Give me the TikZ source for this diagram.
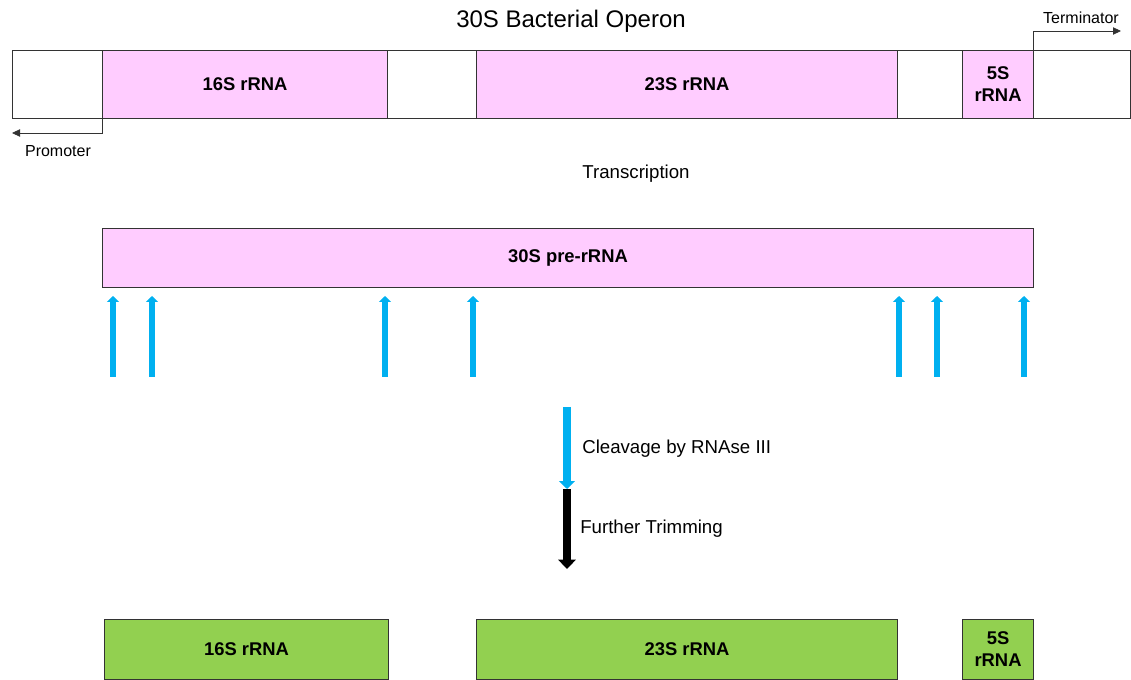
\documentclass[tikz,border=0pt]{standalone}
\usepackage{fontspec}
\setmainfont{Liberation Sans}
\usetikzlibrary{arrows.meta}
\definecolor{pinkf}{HTML}{FFCCFF}
\definecolor{greenf}{HTML}{92D050}
\definecolor{bluea}{HTML}{00B0F0}
\definecolor{edge}{HTML}{333333}
\begin{document}
\begin{tikzpicture}[x=0.75pt,y=-0.75pt,
  seg/.style={draw=edge,line width=0.8pt,minimum height=51pt,inner sep=0pt,anchor=north west,font=\fontsize{13.8}{16.5}\selectfont\bfseries,align=center},
  pinkseg/.style={seg,fill=pinkf},
  whiteseg/.style={seg,fill=white},
  greenseg/.style={seg,fill=greenf,minimum height=45pt},
  lbl/.style={font=\fontsize{14}{16}\selectfont,inner sep=0pt},
  small/.style={font=\fontsize{12}{14}\selectfont,inner sep=0pt},
  thinarrow/.style={draw=edge,line width=0.6pt,-{Triangle[length=6pt,width=5.5pt]}},
  cut/.style={draw=bluea,line width=4pt,-{Triangle[length=4.5pt,width=9pt]}},
  bigblue/.style={draw=bluea,line width=6.5pt,-{Triangle[length=6pt,width=12pt]}},
  bigblack/.style={draw=black,line width=6.5pt,-{Triangle[length=7pt,width=13pt]}}]
\useasboundingbox (0,0) rectangle (1131,680);
% top operon
\node[whiteseg,minimum width=67.5pt] (w1) at (12,50) {};
\node[pinkseg,minimum width=213.75pt] (p16) at (102,50) {16S rRNA};
\node[whiteseg,minimum width=66.75pt] (w2) at (387,50) {};
\node[pinkseg,minimum width=315.75pt] (p23) at (476,50) {23S rRNA};
\node[whiteseg,minimum width=48.75pt] (w3) at (897,50) {};
\node[pinkseg,minimum width=53.25pt] (p5) at (962,50) {5S\\rRNA};
\node[whiteseg,minimum width=72.75pt] (w4) at (1033,50) {};
\node[font=\fontsize{18}{20}\selectfont,inner sep=0pt] (title) at (571,21) {30S Bacterial Operon};
% promoter
\coordinate (pe) at (12,133);
\draw[thinarrow] (p16.south west) |- (pe);
\node[small] (prom) at (58,151) {Promoter};
% terminator
\coordinate (te) at (1121,31);
\draw[thinarrow] (w4.north west) |- (te);
\node[small] (term) at (1081,18) {Terminator};
\node[lbl] (trans) at (636,174) {Transcription};
% pre-rRNA
\node[pinkseg,minimum width=698.25pt,minimum height=44.25pt] (pre) at (102,228) {30S pre-rRNA};
% cleavage arrows
\foreach \x/\n in {113/a,152/b,385/c,473/d,899/e,937/f,1024/g}{
  \coordinate (s\n) at (\x,377);
  \coordinate (e\n) at (\x,296);
  \draw[cut] (s\n) -- (e\n);
}
% process arrows
\coordinate (b1) at (567,407);
\coordinate (b2) at (567,489);
\coordinate (b3) at (567,569);
\draw[bigblue] (b1) -- (b2);
\draw[bigblack] (b2) -- (b3);
\node[lbl,anchor=west] (cleave) at (582,449) {Cleavage by RNAse III};
\node[lbl,anchor=west] (trim) at (580,529) {Further Trimming};
% products
\node[greenseg,minimum width=213pt] (g16) at (104,619) {16S rRNA};
\node[greenseg,minimum width=315.75pt] (g23) at (476,619) {23S rRNA};
\node[greenseg,minimum width=53.25pt] (g5) at (962,619) {5S\\rRNA};
\end{tikzpicture}
\end{document}
